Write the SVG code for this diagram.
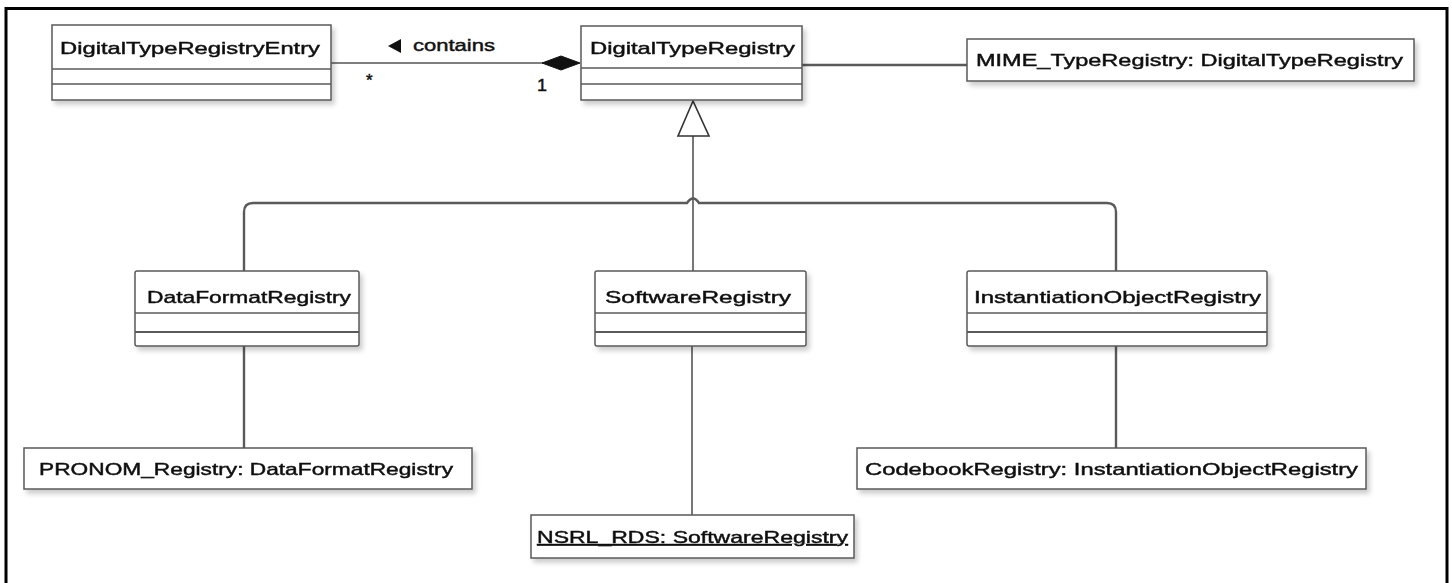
<svg xmlns="http://www.w3.org/2000/svg" width="1452" height="583" viewBox="0 0 1452 583">
  <style>
    .box { fill: #ffffff; stroke: #5a5a5a; stroke-width: 1.5; }
    .sep { stroke: #5a5a5a; stroke-width: 1.5; }
    .sep2 { stroke: #5a5a5a; stroke-width: 2.2; }
    .lbl { font-family: "Liberation Sans", Arial, sans-serif; font-size: 17px; fill: #111111; stroke: #111111; stroke-width: 0.45; }
    .edge { fill: none; stroke: #555555; stroke-width: 1.6; }
    .edge-b { fill: none; stroke: #5a5a5a; stroke-width: 2.4; }
  </style>
  <defs>
    <filter id="shadow" x="-5%" y="-20%" width="115%" height="160%">
      <feGaussianBlur in="SourceAlpha" stdDeviation="2.5"/>
      <feOffset dx="3" dy="4" result="b"/>
      <feComponentTransfer><feFuncA type="linear" slope="0.2"/></feComponentTransfer>
      <feMerge><feMergeNode/><feMergeNode in="SourceGraphic"/></feMerge>
    </filter>
  </defs>

  <rect width="1452" height="583" fill="#ffffff"/>
  <!-- outer frame -->
  <rect x="6" y="8.5" width="1441" height="590" fill="none" stroke="#000000" stroke-width="3"/>

  <!-- connectors -->
  <g id="connectors">
    <!-- composition: DigitalTypeRegistry contains entries -->
    <line class="edge" x1="331" y1="63" x2="543" y2="63"/>
    <polygon points="542,63 561,56 580,63 561,70" fill="#111111" stroke="#111111" stroke-width="1"/>
    <polygon points="388,46 401,39 401,53" fill="#111111"/>
    <text class="lbl" x="413" y="51" textLength="82" lengthAdjust="spacingAndGlyphs">contains</text>
    <text class="lbl" x="366" y="86" font-size="15">*</text>
    <text class="lbl" x="537" y="91" textLength="10" lengthAdjust="spacingAndGlyphs">1</text>

    <!-- instance link to MIME registry -->
    <line class="edge-b" x1="802" y1="65" x2="967" y2="65"/>

    <!-- generalization -->
    <line class="edge" x1="693" y1="136" x2="693" y2="271"/>
    <polygon points="693,101 678,136 709,136" fill="#ffffff" stroke="#333333" stroke-width="1.6" stroke-linejoin="miter"/>
    <path class="edge-b" d="M244,271 V212 Q244,203 253,203 H687 Q693,194 699,203 H1107 Q1116,203 1116,212 V271"/>

    <!-- instance links below the subclasses -->
    <line class="edge-b" x1="244" y1="346" x2="244" y2="448"/>
    <line class="edge" x1="692" y1="346" x2="692" y2="515"/>
    <line class="edge-b" x1="1116" y1="346" x2="1116" y2="448"/>
  </g>

  <g id="DigitalTypeRegistryEntry" filter="url(#shadow)">
    <rect class="box" x="52" y="25" width="279" height="75"/>
    <line class="sep" x1="52" y1="69" x2="331" y2="69"/>
    <line class="sep" x1="52" y1="84" x2="331" y2="84"/>
    <text class="lbl" x="60" y="54" textLength="260" lengthAdjust="spacingAndGlyphs">DigitalTypeRegistryEntry</text>
  </g>

  <g id="DigitalTypeRegistry" filter="url(#shadow)">
    <rect class="box" x="581" y="26" width="221" height="74"/>
    <line class="sep" x1="581" y1="68" x2="802" y2="68"/>
    <line class="sep" x1="581" y1="84" x2="802" y2="84"/>
    <text class="lbl" x="590" y="54" textLength="205" lengthAdjust="spacingAndGlyphs">DigitalTypeRegistry</text>
  </g>

  <g id="MIME_TypeRegistry" filter="url(#shadow)">
    <rect class="box" x="967" y="39" width="447" height="42"/>
    <text class="lbl" x="976" y="66" textLength="427" lengthAdjust="spacingAndGlyphs">MIME_TypeRegistry: DigitalTypeRegistry</text>
  </g>

  <g id="DataFormatRegistry" filter="url(#shadow)">
    <rect class="box" x="135" y="271" width="224" height="75" rx="2"/>
    <line class="sep" x1="135" y1="313" x2="359" y2="313"/>
    <line class="sep2" x1="135" y1="332" x2="359" y2="332"/>
    <text class="lbl" x="147" y="303" textLength="204" lengthAdjust="spacingAndGlyphs">DataFormatRegistry</text>
  </g>

  <g id="SoftwareRegistry" filter="url(#shadow)">
    <rect class="box" x="595" y="271" width="211" height="75" rx="2"/>
    <line class="sep" x1="595" y1="313" x2="806" y2="313"/>
    <line class="sep2" x1="595" y1="332" x2="806" y2="332"/>
    <text class="lbl" x="605" y="303" textLength="186" lengthAdjust="spacingAndGlyphs">SoftwareRegistry</text>
  </g>

  <g id="InstantiationObjectRegistry" filter="url(#shadow)">
    <rect class="box" x="967" y="271" width="300" height="75" rx="2"/>
    <line class="sep" x1="967" y1="313" x2="1267" y2="313"/>
    <line class="sep2" x1="967" y1="332" x2="1267" y2="332"/>
    <text class="lbl" x="974" y="303" textLength="287" lengthAdjust="spacingAndGlyphs">InstantiationObjectRegistry</text>
  </g>

  <g id="PRONOM_Registry" filter="url(#shadow)">
    <rect class="box" x="24" y="448" width="448" height="41"/>
    <text class="lbl" x="39" y="475" textLength="414" lengthAdjust="spacingAndGlyphs">PRONOM_Registry: DataFormatRegistry</text>
  </g>

  <g id="NSRL_RDS" filter="url(#shadow)">
    <rect class="box" x="531" y="515" width="323" height="43"/>
    <text class="lbl" x="537" y="543" textLength="311" lengthAdjust="spacingAndGlyphs" text-decoration="underline">NSRL_RDS: SoftwareRegistry</text>
  </g>

  <g id="CodebookRegistry" filter="url(#shadow)">
    <rect class="box" x="857" y="448" width="509" height="41"/>
    <text class="lbl" x="865" y="475" textLength="493" lengthAdjust="spacingAndGlyphs">CodebookRegistry: InstantiationObjectRegistry</text>
  </g>
</svg>
